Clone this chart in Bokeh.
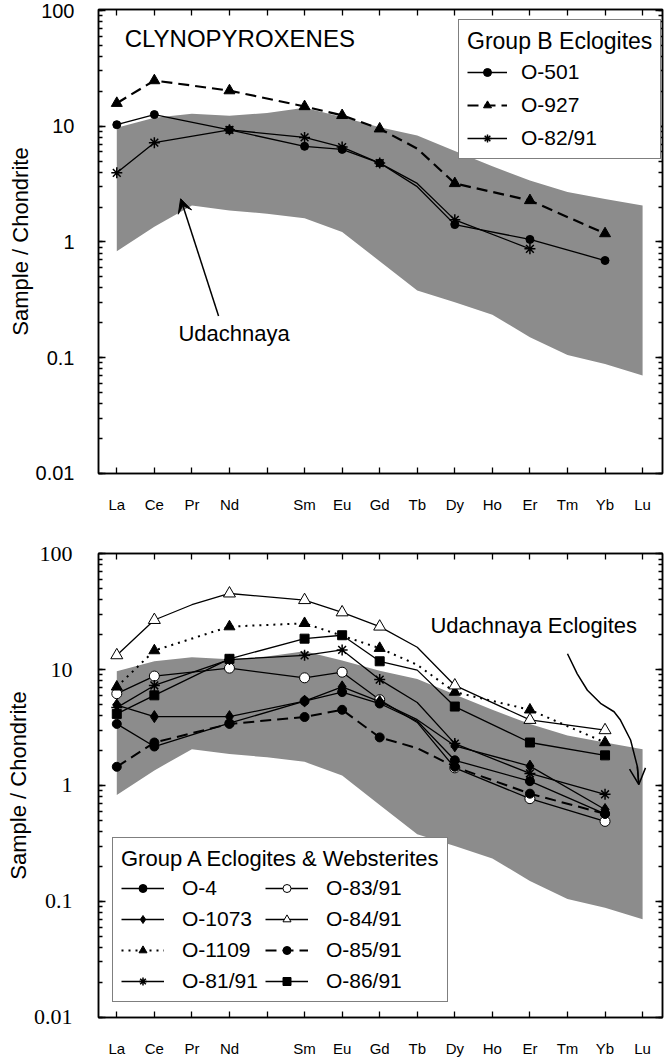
from bokeh.plotting import figure
from bokeh.layouts import column
from bokeh.models import (Range1d, LogAxis, LinearAxis, FixedTicker, LogTicker, Legend,
                          LegendItem, Label, Arrow, VeeHead, OpenHead, CustomJSTickFormatter)
from bokeh.embed import file_html
from bokeh.resources import INLINE

# ---------------- data ----------------
elements = ["La", "Ce", "Pr", "Nd", "Pm", "Sm", "Eu", "Gd", "Tb", "Dy", "Ho", "Er", "Tm", "Yb", "Lu"]
tick_labels = ["La", "Ce", "Pr", "Nd", "", "Sm", "Eu", "Gd", "Tb", "Dy", "Ho", "Er", "Tm", "Yb", "Lu"]
measured = ["La", "Ce", "Nd", "Sm", "Eu", "Gd", "Dy", "Er", "Yb"]
ytick_vals = [0.01, 0.1, 1, 10, 100]
ytick_text = ["0.01", "0.1", "1", "10", "100"]

# Udachnaya eclogite clinopyroxene field (shaded)
udach_upper = [9.7, 11.8, 12.8, 12.3, 13.0, 14.4, 12.0, 9.8, 8.3, 6.1, 4.5, 3.4, 2.7, 2.35, 2.06]
udach_lower = [0.83, 1.35, 2.06, 1.87, 1.75, 1.6, 1.22, 0.68, 0.38, 0.30, 0.235, 0.15, 0.105, 0.088, 0.07]

# Group B eclogites (top panel)
o501 = [10.3, 12.6, None, 9.3, None, 6.7, 6.3, 4.8, 3.0, 1.41, None, 1.05, None, 0.69, None]
o927 = [15.8, 24.8, None, 20.3, None, 14.8, 12.4, 9.5, 6.4, 3.2, None, 2.28, None, 1.18, None]
o82_91 = [3.95, 7.2, None, 9.3, None, 8.0, 6.6, 4.8, 3.2, 1.55, None, 0.87, None, None, None]

# Group A eclogites & websterites (bottom panel)
o4 = [3.4, 2.17, None, 3.45, None, 5.35, 6.4, 5.1, 3.6, 1.65, None, 1.09, None, 0.57, None]
o1073 = [4.95, 3.93, None, 3.93, None, 5.35, 7.1, 5.3, 3.7, 2.2, None, 1.47, None, 0.62, None]
o1109 = [7.1, 14.6, None, 23.5, None, 25.1, None, 15.3, 11.0, 6.4, None, 4.5, None, 2.35, None]
o81_91 = [4.7, 7.3, None, 12.2, None, 13.3, 14.8, 8.2, 5.2, 2.3, None, 1.27, None, 0.84, None]
o83_91 = [6.2, 8.8, None, 10.3, None, 8.5, 9.5, 5.5, 3.5, 1.42, None, 0.77, None, 0.49, None]
o84_91 = [13.3, 26.8, 36.3, 45.4, None, 39.8, 31.2, 23.5, 15.6, 7.3, None, 3.68, None, 3.0, None]
o85_91 = [1.45, 2.35, None, 3.4, None, 3.9, 4.5, 2.6, 2.1, 1.45, None, 0.85, None, 0.57, None]
o86_91 = [4.15, 6.0, None, 12.4, None, 18.5, 19.8, 11.8, 9.9, 4.8, None, 2.35, None, 1.82, None]

# curved annotation arrow in the lower panel (element index, value)
curve_x = [12.0, 12.26, 12.53, 12.88, 13.24, 13.41, 13.68, 13.86, 13.9]
curve_y = [13.7, 9.2, 6.64, 5.12, 4.33, 3.67, 2.47, 1.46, 1.02]

SANS = "Liberation Sans"
SERIF = "'Liberation Serif', 'DejaVu Serif', serif"
positions = list(range(len(elements)))
X0, X1 = -0.487, 14.53


def blank_formatter():
    return CustomJSTickFormatter(code="return ''")


def style_y(ax, labelled=False, font=SANS, size="20px", standoff=0):
    ax.ticker = LogTicker(num_minor_ticks=10)
    ax.major_tick_in = 7
    ax.major_tick_out = 0
    ax.minor_tick_in = 4
    ax.minor_tick_out = 0
    ax.major_tick_line_width = 1.3
    ax.minor_tick_line_width = 1.3
    ax.axis_line_width = 1.5
    if labelled:
        ax.formatter = CustomJSTickFormatter(
            args=dict(vals=ytick_vals, names=ytick_text),
            code="""
            for (let i = 0; i < vals.length; i++) {
                if (Math.abs(Math.log10(tick) - Math.log10(vals[i])) < 1e-6) { return names[i]; }
            }
            return '';
            """)
        ax.major_label_text_font = font
        ax.major_label_text_font_size = size
        ax.major_label_text_color = "black"
        ax.major_label_standoff = standoff
    else:
        ax.formatter = blank_formatter()
        ax.major_label_standoff = 0


def style_x(ax, labelled, standoff):
    ax.ticker = FixedTicker(ticks=positions, minor_ticks=[])
    ax.major_tick_in = 6
    ax.major_tick_out = 0
    ax.major_tick_line_width = 1.3
    ax.axis_line_width = 1.5
    if labelled:
        ax.formatter = CustomJSTickFormatter(args=dict(names=tick_labels),
                                             code="return names[Math.round(tick)] || ''")
        ax.major_label_text_font = SANS
        ax.major_label_text_font_size = "15px"
        ax.major_label_text_color = "black"
        ax.major_label_standoff = standoff
    else:
        ax.formatter = blank_formatter()
        ax.major_label_standoff = 0


def make_fig(height, btop, bbottom, ylim, xstandoff, tick_font, tick_size, ystandoff):
    p = figure(width=667, height=height, x_range=Range1d(X0, X1), y_range=Range1d(*ylim),
               y_axis_type="log", output_backend="svg", toolbar_location=None,
               min_border_left=98, min_border_right=5, min_border_top=btop,
               min_border_bottom=bbottom)
    p.grid.visible = False
    p.outline_line_color = "black"
    p.outline_line_width = 1.5
    p.background_fill_color = "white"
    p.border_fill_color = "white"
    style_y(p.yaxis[0], True, tick_font, tick_size, ystandoff)
    p.yaxis[0].axis_label = "Sample / Chondrite"
    p.yaxis[0].axis_label_text_font = SANS
    p.yaxis[0].axis_label_text_font_size = "22px"
    p.yaxis[0].axis_label_text_font_style = "normal"
    p.yaxis[0].axis_label_text_color = "black"
    p.yaxis[0].axis_label_standoff = 0
    style_x(p.xaxis[0], True, xstandoff)
    ra = LogAxis()
    style_y(ra)
    p.add_layout(ra, "right")
    ta = LinearAxis()
    style_x(ta, False, 0)
    p.add_layout(ta, "above")
    p.varea(x=positions, y1=udach_lower, y2=udach_upper, fill_color="#8c8c8c")
    return p


def draw(p, vals, name, marker, size, fill, dash="solid", lw=1.3, mlw=1.0):
    xs = [i for i, v in enumerate(vals) if v is not None]
    ys = [v for v in vals if v is not None]
    lr = p.line(xs, ys, line_color="black", line_width=lw, line_dash=dash)
    mx = [i for i, v in enumerate(vals) if v is not None and elements[i] in measured]
    my = [vals[i] for i in mx]
    sr = p.scatter(mx, my, marker=marker, size=size, fill_color=fill, line_color="black",
                   line_width=mlw)
    return LegendItem(label=name, renderers=[lr, sr])


def style_legend(lg, tsize, gw, lh, spacing, standoff, pad, tstand):
    lg.title_text_font = SANS
    lg.title_text_font_size = tsize
    lg.title_text_font_style = "normal"
    lg.title_text_color = "black"
    lg.title_standoff = tstand
    lg.label_text_font = SANS
    lg.label_text_font_size = "21px"
    lg.label_text_color = "black"
    lg.glyph_width = gw
    lg.glyph_height = lh
    lg.label_height = lh
    lg.spacing = spacing
    lg.label_standoff = standoff
    lg.padding = pad
    lg.border_line_color = "black"
    lg.border_line_width = 1.5
    lg.background_fill_color = "white"
    lg.background_fill_alpha = 1.0
    lg.margin = 0


# ---------------- top panel ----------------
p1 = make_fig(528, 9, 55, (0.00995, 102), 22, SANS, "20px", 24)
items1 = [
    draw(p1, o501, "O-501", "circle", 8, "black"),
    draw(p1, o927, "O-927", "triangle", 11, "black", dash="11 6", lw=2.2),
    draw(p1, o82_91, "O-82/91", "asterisk", 11, "black", mlw=1.5),
]
lg1 = Legend(items=items1, title="Group B Eclogites", location=(360, 314))
style_legend(lg1, "23px", 40, 20, 9, 14, 8, 5)
p1.add_layout(lg1)
p1.add_layout(Label(x=0.21, y=57.5, text="CLYNOPYROXENES", text_font=SANS, text_font_size="24px",
                    text_align="left", text_baseline="middle", text_color="black"))
p1.add_layout(Label(x=1.64, y=0.161, text="Udachnaya", text_font=SANS, text_font_size="22px",
                    text_align="left", text_baseline="middle", text_color="black"))
p1.add_layout(Arrow(end=VeeHead(size=14, fill_color="black", line_color="black"),
                    x_start=2.71, y_start=0.229, x_end=1.70, y_end=2.36,
                    line_color="black", line_width=1.5))

# ---------------- bottom panel ----------------
p2 = make_fig(531, 25, 41, (0.00995, 100.5), 22, SERIF, "22px", 26)
items2 = [
    draw(p2, o83_91, "O-83/91", "circle", 10, "white"),
    draw(p2, o4, "O-4", "circle", 9, "black"),
    draw(p2, o1073, "O-1073", "diamond", 12, "black"),
    draw(p2, o1109, "O-1109", "triangle", 11, "black", dash="2 5", lw=2.0),
    draw(p2, o81_91, "O-81/91", "asterisk", 11, "black", mlw=1.5),
    draw(p2, o84_91, "O-84/91", "triangle", 12, "white"),
    draw(p2, o85_91, "O-85/91", "circle", 9, "black", dash="11 6", lw=2.0),
    draw(p2, o86_91, "O-86/91", "square", 9, "black"),
]
order = ["O-4", "O-1073", "O-1109", "O-81/91", "O-83/91", "O-84/91", "O-85/91", "O-86/91"]
by_name = {it.label.value: it for it in items2}
lg2 = Legend(items=[by_name[n] for n in order], title="Group A Eclogites & Websterites",
             location=(14, 15), orientation="vertical", nrows=4)
style_legend(lg2, "22px", 43, 20, 7, 18, 8, 4)
p2.add_layout(lg2)
p2.add_layout(Label(x=8.35, y=24.0, text="Udachnaya Eclogites", text_font=SANS,
                    text_font_size="22px", text_align="left", text_baseline="middle",
                    text_color="black"))
p2.line(curve_x, curve_y, line_color="black", line_width=1.5)
p2.add_layout(Arrow(end=OpenHead(size=16, line_color="black", line_width=1.5),
                    x_start=curve_x[-2], y_start=curve_y[-2], x_end=curve_x[-1], y_end=curve_y[-1],
                    line_color="black", line_width=1.5))

layout = column(p1, p2, spacing=0)
open("out.html", "w").write(file_html(layout, INLINE))
